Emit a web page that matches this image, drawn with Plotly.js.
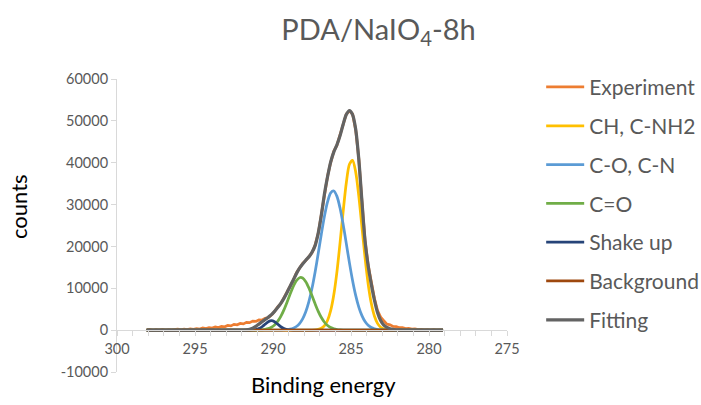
<!DOCTYPE html>
<html>
<head>
<meta charset="utf-8">
<script src="https://cdn.plot.ly/plotly-3.0.1.min.js"></script>
<style>html,body{margin:0;padding:0;background:#fff;}#chart{width:701px;height:405px;}</style>
</head>
<body>
<div id="chart"></div>
<script>
// Binding energy grid (eV)
const energy = [
298.1,297.9,297.7,297.5,297.3,297.1,296.9,296.7,296.5,296.3,
296.1,295.9,295.7,295.5,295.3,295.1,294.9,294.7,294.5,294.3,
294.1,293.9,293.7,293.5,293.3,293.1,292.9,292.7,292.5,292.3,
292.1,291.9,291.7,291.5,291.3,291.1,290.9,290.7,290.5,290.3,
290.1,289.9,289.7,289.5,289.3,289.1,288.9,288.7,288.5,288.3,
288.1,287.9,287.7,287.5,287.3,287.1,286.9,286.7,286.5,286.3,
286.1,285.9,285.7,285.5,285.3,285.1,284.9,284.7,284.5,284.3,
284.1,283.9,283.7,283.5,283.3,283.1,282.9,282.7,282.5,282.3,
282.1,281.9,281.7,281.5,281.3,281.1,280.9,280.7,280.5,280.3,
280.1,279.9,279.7,279.5,279.3,279.1];

const experiment = [
20,160,-20,110,30,180,-10,140,40,90,
230,70,260,120,300,210,380,260,520,360,
610,480,760,620,900,800,1120,1020,1380,1260,
1590,1480,1860,1780,2150,2090,2450,2420,2820,3000,
3600,4450,5550,6300,7750,8900,10650,11900,13650,14700,
15950,16600,17650,18500,20350,23100,27650,32500,36850,40100,
42750,44200,46650,49100,51650,52350,51650,47900,40950,30850,
21450,15550,11300,7600,4700,3100,2250,1450,1280,900,
860,580,600,380,420,230,300,120,190,60,
150,20,110,-10,80,30];

const chNh2 = [
0,0,0,0,0,0,0,0,0,0,
0,0,0,0,0,0,0,0,0,0,
0,0,0,0,0,0,0,0,0,0,
0,0,0,0,0,0,0,0,0,0,
0,0,0,0,0,0,0,0,0,0,
0,0,0,18,59,171,452,1087,2373,4709,
8506,13989,20920,28450,35206,39630,40580,37800,32031,24685,
17310,11038,6406,3382,1624,709,282,102,33,10,
0,0,0,0,0,0,0,0,0,0,
0,0,0,0,0,0];

const coCn = [
0,0,0,0,0,0,0,0,0,0,
0,0,0,0,0,0,0,0,0,0,
0,0,0,0,0,0,0,0,0,0,
0,0,0,0,0,0,0,0,0,0,
0,0,8,20,48,106,225,454,867,1571,
2700,4404,6813,9990,13903,18350,22967,27270,30712,32810,
33245,31954,29131,25191,20663,16077,11865,8305,5514,3473,
2075,1175,632,322,156,71,31,13,5,0,
0,0,0,0,0,0,0,0,0,0,
0,0,0,0,0,0];

const cEqO = [
0,0,0,0,0,0,0,0,0,0,
0,0,0,0,0,0,0,0,0,0,
0,0,0,0,0,0,0,0,0,0,
0,0,0,0,5,14,34,80,176,360,
690,1240,2083,3280,4833,6669,8617,10427,11814,12534,
12451,11583,10090,8229,6285,4494,3010,1887,1109,610,
314,151,68,29,11,4,0,0,0,0,
0,0,0,0,0,0,0,0,0,0,
0,0,0,0,0,0,0,0,0,0,
0,0,0,0,0,0];

const shakeUp = [
0,0,0,0,0,0,0,0,0,0,
0,0,0,0,0,0,0,0,0,0,
0,0,0,0,0,0,0,0,0,0,
0,0,0,9,38,132,368,811,1430,2009,
2250,2009,1430,811,368,132,38,9,0,0,
0,0,0,0,0,0,0,0,0,0,
0,0,0,0,0,0,0,0,0,0,
0,0,0,0,0,0,0,0,0,0,
0,0,0,0,0,0,0,0,0,0,
0,0,0,0,0,0];

const background = [
0,0,0,0,0,0,0,0,0,0,
0,0,0,0,0,0,0,0,0,0,
0,0,0,0,0,0,0,0,0,0,
0,0,0,0,0,0,0,0,0,0,
0,0,0,0,0,0,0,0,0,0,
0,0,0,0,0,0,0,0,0,0,
0,0,0,0,0,0,0,0,0,0,
0,0,0,0,0,0,0,0,0,0,
0,0,0,0,0,0,0,0,0,0,
0,0,0,0,0,0];

const fitting = [
0,0,0,0,0,0,0,0,0,0,
0,0,0,0,0,0,0,0,0,0,
0,0,0,0,0,0,0,0,0,0,
0,20,60,180,450,900,1450,2000,2550,3100,
3700,4500,5400,6400,7600,9000,10500,12000,13500,14800,
15800,16700,17500,18600,20200,23200,27500,32600,36700,40200,
42600,44300,46500,49200,51500,52450,51500,48000,40800,30800,
21300,15400,11000,7200,4200,2300,1200,650,350,180,
90,40,0,0,0,0,0,0,0,0,
0,0,0,0,0,0];

const seriesNames = ['Experiment','CH, C-NH2','C-O, C-N','C=O','Shake up','Background','Fitting'];
const seriesColors = ['#ED7D31','#FFC000','#5B9BD5','#70AD47','#264478','#9E480E','#636363'];
const seriesData = [experiment, chNh2, coCn, cEqO, shakeUp, background, fitting];
const seriesWidths = [2.75, 2.75, 2.75, 2.75, 2.75, 2.75, 3.25];

const xTickVals = [300, 295, 290, 285, 280, 275];
const xTickText = ['300', '295', '290', '285', '280', '275'];
const yTickVals = [-10000, 0, 10000, 20000, 30000, 40000, 50000, 60000];
const yTickText = ['-10000', '0', '10000', '20000', '30000', '40000', '50000', '60000'];

const traces = seriesData.map((ys, k) => ({
  type: 'scatter', mode: 'lines',
  x: energy, y: ys, name: seriesNames[k],
  legendgroup: 'g' + k,
  line: {color: seriesColors[k], width: seriesWidths[k],
         shape: k === 0 ? 'linear' : 'spline', smoothing: 0.8},
  hoverinfo: 'skip'
}));

const axisGrey = '#D9D9D9';
const layout = {
  width: 701, height: 405,
  margin: {l: 117, r: 194, t: 79, b: 33},
  paper_bgcolor: '#ffffff', plot_bgcolor: '#ffffff',
  font: {family: 'Lato, "Open Sans", sans-serif', color: '#595959'},
  title: {text: 'PDA/NaIO<sub>4</sub>-8h', font: {size: 29, color: '#595959'},
          xref: 'container', x: 0.54, xanchor: 'center',
          yref: 'container', y: 0.926, yanchor: 'middle'},
  showlegend: true,
  legend: {xref: 'container', x: 0.772, xanchor: 'left',
           yref: 'container', y: 0.835, yanchor: 'top',
           font: {size: 21, color: '#595959'},
           traceorder: 'grouped', tracegroupgap: 8.5,
           itemwidth: 38, maxheight: 400,
           bgcolor: 'rgba(0,0,0,0)'},
  xaxis: {range: [300, 275], anchor: 'free', position: 10000/70000,
          showline: true, linecolor: axisGrey, linewidth: 1,
          ticks: 'outside', ticklen: 5, tickcolor: axisGrey, tickwidth: 1,
          tickmode: 'array', tickvals: xTickVals, ticktext: xTickText,
          minor: {dtick: 1, tick0: 300, ticks: 'outside', ticklen: 5, tickcolor: axisGrey},
          showgrid: false, zeroline: false,
          tickfont: {size: 14.5, color: '#595959'}},
  yaxis: {range: [-10000, 60000],
          tickmode: 'array', tickvals: yTickVals, ticktext: yTickText,
          showline: true, linecolor: axisGrey, linewidth: 1,
          ticks: 'outside', ticklen: 5, tickcolor: axisGrey,
          showgrid: false, zeroline: false,
          tickfont: {size: 14.5, color: '#595959'}},
  annotations: [
    {text: 'Binding energy', xref: 'paper', yref: 'paper',
     x: (323 - 117) / 390, y: (405 - 33 - 384) / 293, xanchor: 'center', yanchor: 'middle',
     showarrow: false, font: {size: 22, color: '#000000'}},
    {text: 'counts', xref: 'paper', yref: 'paper',
     x: (18 - 117) / 390, y: (372 - 207) / 293, xanchor: 'center', yanchor: 'middle',
     textangle: -90, showarrow: false, font: {size: 22, color: '#000000'}}
  ]
};

Plotly.newPlot('chart', traces, layout, {displayModeBar: false, staticPlot: true});
</script>
</body>
</html>
